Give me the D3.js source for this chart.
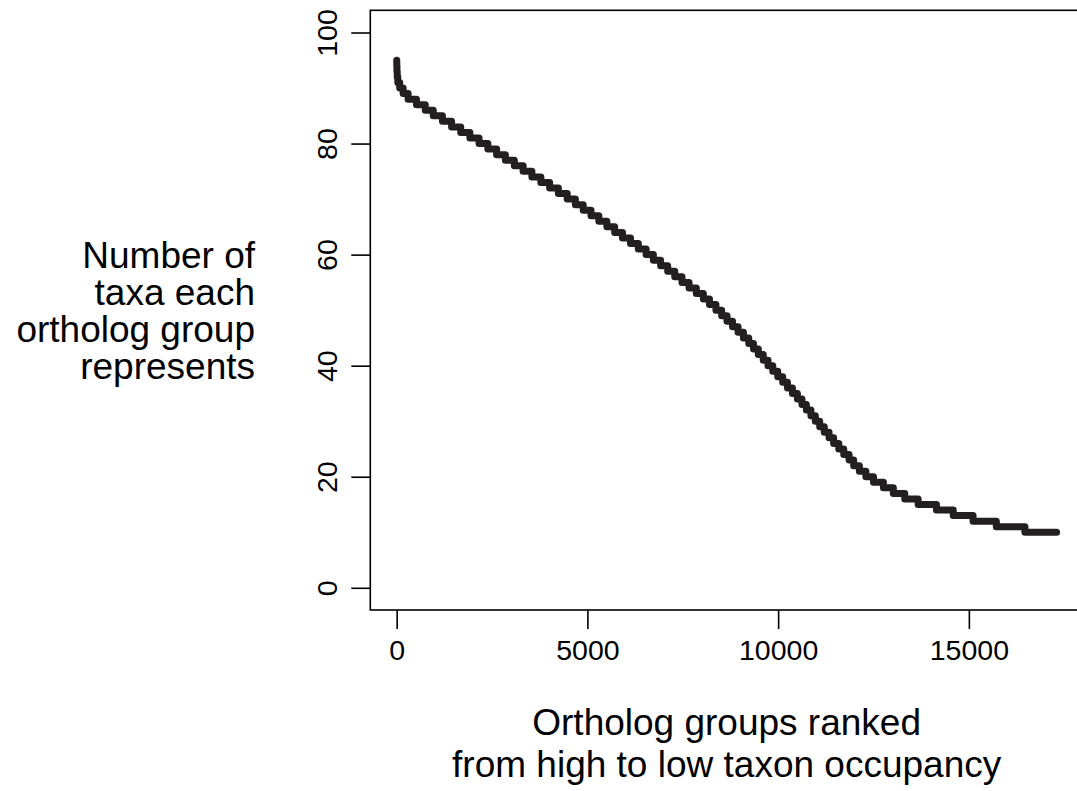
<!DOCTYPE html>
<html>
<head>
<meta charset="utf-8">
<script src="https://cdn.jsdelivr.net/npm/d3@7"></script>
<style>
  html, body { margin: 0; padding: 0; background: #fff; }
  text { font-family: "Liberation Sans", Arial, sans-serif; fill: #000; }
</style>
</head>
<body>
<div id="app"></div>
<script>
// taxon occupancy levels (number of taxa) and the last rank holding each level
const levels = [95, 94, 93, 92, 91, 90, 89, 88, 87, 86, 85, 84, 83, 82, 81, 80,
    79, 78, 77, 76, 75, 74, 73, 72, 71, 70, 69, 68, 67, 66, 65, 64, 63, 62, 61, 60,
    59, 58, 57, 56, 55, 54, 53, 52, 51, 50, 49, 48, 47, 46, 45, 44, 43, 42, 41, 40,
    39, 38, 37, 36, 35, 34, 33, 32, 31, 30, 29, 28, 27, 26, 25, 24, 23, 22, 21, 20,
    19, 18, 17, 16, 15, 14, 13, 12, 11, 10];
const endRanks = [3, 8, 15, 30, 80, 170, 300, 520, 750, 960, 1200, 1440, 1680, 1920, 2160, 2390,
    2620, 2850, 3085, 3315, 3545, 3780, 4010, 4240, 4470, 4685, 4890, 5095, 5300, 5510, 5715, 5920, 6130, 6335, 6540, 6730,
    6920, 7105, 7290, 7480, 7665, 7855, 8040, 8200, 8370, 8520, 8660, 8805, 8950, 9090, 9230, 9355, 9480, 9610, 9735, 9860,
    9990, 10120, 10245, 10375, 10505, 10625, 10740, 10860, 10975, 11090, 11210, 11335, 11455, 11590, 11720, 11860, 11980, 12130, 12300, 12500,
    12760, 13020, 13320, 13670, 14150, 14590, 15110, 15720, 16470, 17300];

const xTicks = [0, 5000, 10000, 15000];
const yTicks = [0, 20, 40, 60, 80, 100];
const yTitle = ["Number of", "taxa each", "ortholog group", "represents"];
const xTitle = ["Ortholog groups ranked", "from high to low taxon occupancy"];

const width = 1077,
    height = 791;

// plot box (R style, axes extended 4% past the data)
const boxLeft = 370.3, boxRight = 1083, boxTop = 10.3, boxBottom = 610;

const xMax = endRanks[endRanks.length - 1];
const xPad = 0.04 * (xMax - 1);
const x = d3.scaleLinear().domain([1 - xPad, xMax + xPad]).range([boxLeft, boxRight]);
const y = d3.scaleLinear().domain([-4, 104]).range([boxBottom, boxTop]);

const svg = d3.select("#app")
    .append("svg")
    .attr("width", width)
    .attr("height", height)
    .style("display", "block");

svg.append("rect").attr("width", width).attr("height", height).attr("fill", "#fff");

// staircase points: each level starts where the previous one ended
const points = levels.map((v, i) => ({rank: i === 0 ? 1 : endRanks[i - 1], v}));
points.push({rank: xMax, v: levels[levels.length - 1]});

const line = d3.line()
    .x(d => x(d.rank))
    .y(d => y(d.v))
    .curve(d3.curveStepAfter);

svg.append("path")
    .datum(points)
    .attr("d", line)
    .attr("fill", "none")
    .attr("stroke", "#231f20")
    .attr("stroke-width", 7)
    .attr("stroke-linejoin", "round")
    .attr("stroke-linecap", "round");

// box
svg.append("rect")
    .attr("x", boxLeft).attr("y", boxTop)
    .attr("width", boxRight - boxLeft).attr("height", boxBottom - boxTop)
    .attr("fill", "none").attr("stroke", "#000").attr("stroke-width", 1.6);

//X-Axis
const xAxis = svg.append("g")
    .attr("transform", `translate(0, ${boxBottom})`)
    .call(d3.axisBottom(x).tickValues(xTicks).tickFormat(d3.format("d")).tickSize(19).tickPadding(11));
xAxis.select(".domain").remove();
xAxis.selectAll("line").attr("stroke-width", 1.6);
xAxis.selectAll("text")
    .attr("font-size", 28.5)
    .attr("font-family", "Liberation Sans, Arial, sans-serif");

//Y-Axis
const yAxis = svg.append("g")
    .attr("transform", `translate(${boxLeft}, 0)`)
    .call(d3.axisLeft(y).tickValues(yTicks).tickSize(19));
yAxis.select(".domain").remove();
yAxis.selectAll("line").attr("stroke-width", 1.6);
yAxis.selectAll("text")
    .attr("font-size", 28.5)
    .attr("font-family", "Liberation Sans, Arial, sans-serif")
    .attr("x", null).attr("dy", null)
    .attr("text-anchor", "middle")
    .attr("transform", "translate(-33, 0) rotate(-90)");

// axis titles
svg.append("g").selectAll("text")
    .data(yTitle).enter()
    .append("text")
    .attr("x", 255)
    .attr("y", (d, i) => 268 + i * 37)
    .attr("text-anchor", "end")
    .attr("font-size", 37)
    .text(d => d);

svg.append("g").selectAll("text")
    .data(xTitle).enter()
    .append("text")
    .attr("x", (boxLeft + boxRight) / 2)
    .attr("y", (d, i) => 735 + i * 42)
    .attr("text-anchor", "middle")
    .attr("font-size", 37)
    .text(d => d);
</script>
</body>
</html>
